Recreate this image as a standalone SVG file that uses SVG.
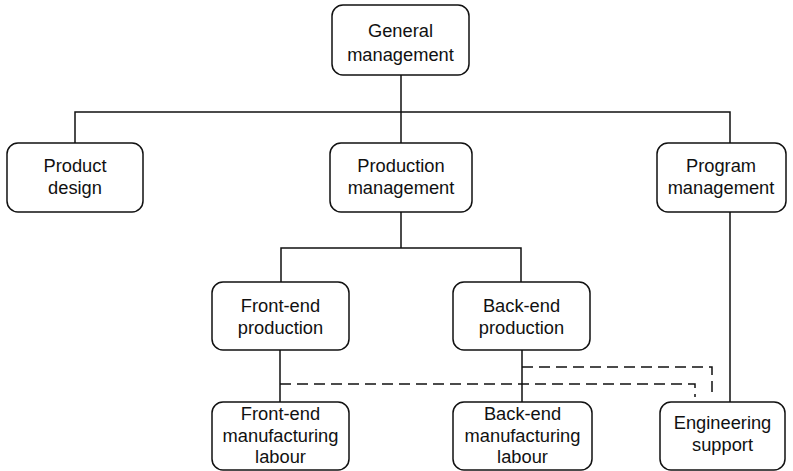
<svg xmlns="http://www.w3.org/2000/svg" width="793" height="471" viewBox="0 0 793 471">
<style>
.box{fill:#fff;stroke:#111;stroke-width:1.5}
.t{font-family:"Liberation Sans",Arial,sans-serif;font-size:18.3px;fill:#111;text-anchor:middle}
.ln{fill:none;stroke:#111;stroke-width:1.5}
.dash{fill:none;stroke:#111;stroke-width:1.5;stroke-dasharray:11 6}
</style>
<rect width="793" height="471" fill="#fff"/>
<g id="connectors">
<path class="ln" d="M401 75V112M75 143V112H730V143M401 112V143"/>
<path class="ln" d="M401 212V248M281 282V248H521V282"/>
<path class="ln" d="M280 350V402M522 350V402M730 212V402"/>
<path class="dash" d="M280 384H695V397"/>
<path class="dash" d="M522 367H712V398"/>
</g>
<g id="general"><rect class="box" x="332" y="5" width="137" height="70" rx="11"/><text class="t" x="400.5" y="37">General</text><text class="t" x="400.5" y="61">management</text></g>
<g id="product"><rect class="box" x="7" y="143" width="136" height="69" rx="11"/><text class="t" x="75" y="172">Product</text><text class="t" x="75" y="194">design</text></g>
<g id="production"><rect class="box" x="330" y="143" width="142" height="69" rx="11"/><text class="t" x="401" y="172">Production</text><text class="t" x="401" y="194">management</text></g>
<g id="program"><rect class="box" x="657" y="143" width="129" height="69" rx="11"/><text class="t" x="721" y="172">Program</text><text class="t" x="721" y="194">management</text></g>
<g id="frontend"><rect class="box" x="212" y="282" width="137" height="68" rx="11"/><text class="t" x="280.5" y="312">Front-end</text><text class="t" x="280.5" y="334">production</text></g>
<g id="backend"><rect class="box" x="453" y="282" width="137" height="68" rx="11"/><text class="t" x="521.5" y="312">Back-end</text><text class="t" x="521.5" y="334">production</text></g>
<g id="frontlab"><rect class="box" x="212" y="402" width="137" height="68" rx="11"/><text class="t" x="280.5" y="420">Front-end</text><text class="t" x="280.5" y="442">manufacturing</text><text class="t" x="280.5" y="463">labour</text></g>
<g id="backlab"><rect class="box" x="453" y="402" width="139" height="68" rx="11"/><text class="t" x="522.5" y="420">Back-end</text><text class="t" x="522.5" y="442">manufacturing</text><text class="t" x="522.5" y="463">labour</text></g>
<g id="eng"><rect class="box" x="660" y="402" width="125" height="68" rx="11"/><text class="t" x="722.5" y="429">Engineering</text><text class="t" x="722.5" y="451">support</text></g>
</svg>
